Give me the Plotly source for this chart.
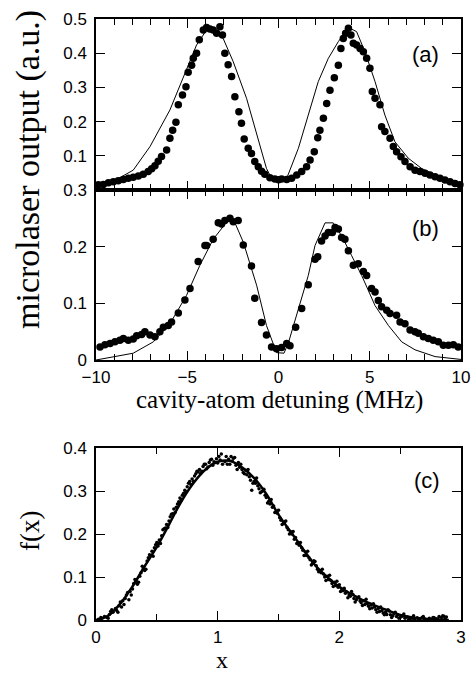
import plotly.graph_objects as go

# ---------------- data: panel (a) ----------------
a_dot_x = [-9.87, -9.60, -9.32, -9.05, -8.78, -8.50, -8.23, -7.96, -7.68, -7.41, -7.14, -6.95, -6.77,
           -6.59, -6.41, -6.13, -5.95, -5.80, -5.62, -5.49, -5.26, -5.07, -4.95, -4.76, -4.67, -4.49,
           -4.34, -4.12, -3.94, -3.76, -3.58, -3.39, -3.21, -3.07, -2.94, -2.76, -2.57, -2.39, -2.17,
           -2.03, -1.88, -1.66, -1.48, -1.30, -1.11, -0.93, -0.75, -0.47, -0.20, 0.00,
           0.17, 0.45, 0.72, 1.00, 1.27, 1.54, 1.73, 1.96, 2.15, 2.27, 2.46, 2.64, 2.82, 3.06, 3.28,
           3.42, 3.55, 3.68, 3.83, 3.97, 4.10, 4.28, 4.47, 4.65, 4.83, 5.01, 5.14, 5.29, 5.56, 5.65,
           5.83, 6.11, 6.29, 6.47, 6.71, 6.93, 7.21, 7.48, 7.75, 8.03, 8.30, 8.58, 8.85, 9.12, 9.40,
           9.67, 9.94]
a_dot_y = [0.015, 0.016, 0.021, 0.024, 0.027, 0.031, 0.034, 0.037, 0.041, 0.046, 0.054, 0.062, 0.071,
           0.084, 0.098, 0.117, 0.151, 0.175, 0.198, 0.249, 0.278, 0.302, 0.344, 0.365, 0.385, 0.400,
           0.439, 0.468, 0.475, 0.471, 0.468, 0.458, 0.477, 0.453, 0.400, 0.366, 0.332, 0.273, 0.229,
           0.195, 0.149, 0.122, 0.107, 0.083, 0.068, 0.055, 0.046, 0.036, 0.032, 0.030,
           0.032, 0.031, 0.034, 0.044, 0.054, 0.068, 0.088, 0.112, 0.153, 0.175, 0.210, 0.253, 0.292,
           0.328, 0.365, 0.414, 0.443, 0.458, 0.473, 0.453, 0.429, 0.424, 0.414, 0.404, 0.385, 0.356,
           0.288, 0.268, 0.249, 0.185, 0.171, 0.151, 0.127, 0.112, 0.097, 0.083, 0.068, 0.058, 0.054,
           0.049, 0.044, 0.039, 0.034, 0.029, 0.024, 0.019, 0.015]
a_fit_x = [-10.0, -8.9, -7.96, -7.04, -5.95, -5.04, -4.49, -3.94, -3.67, -3.03, -2.48, -1.75, -1.20,
           -0.66, -0.38, 0.0, 0.45, 1.09, 1.63, 2.18, 2.73, 3.28, 3.83, 4.28, 4.74, 5.29, 5.83, 6.38,
           7.11, 7.84, 8.58, 9.31, 10.0]
a_fit_y = [0.012, 0.030, 0.058, 0.127, 0.234, 0.356, 0.424, 0.468, 0.473, 0.443, 0.375, 0.268, 0.161,
           0.063, 0.034, 0.029, 0.034, 0.122, 0.219, 0.317, 0.385, 0.434, 0.475, 0.463, 0.404, 0.317,
           0.219, 0.141, 0.093, 0.063, 0.044, 0.029, 0.015]

# ---------------- data: panel (b) ----------------
b_dot_x = [-9.78, -9.51, -9.23, -8.96, -8.69, -8.50, -8.23, -7.96, -7.77, -7.50, -7.32, -7.04, -6.77,
           -6.50, -6.31, -6.04, -5.86, -5.49, -5.13, -4.85, -4.40, -4.03, -3.94, -3.58, -3.30, -3.12,
           -2.94, -2.66, -2.48, -2.21, -1.93, -1.48, -1.30, -0.93, -0.66, -0.38, -0.11,
           0.17, 0.45, 0.63, 0.94, 1.27, 1.63, 2.00, 2.15, 2.36, 2.55, 2.73, 2.95, 3.10, 3.28, 3.46,
           3.64, 3.83, 4.10, 4.37, 4.65, 4.83, 5.10, 5.29, 5.47, 5.65, 5.93, 6.11, 6.47, 6.66, 6.93,
           7.21, 7.48, 7.66, 7.94, 8.21, 8.48, 8.76, 9.03, 9.31, 9.58, 9.85]
b_dot_y = [0.023, 0.027, 0.029, 0.032, 0.035, 0.038, 0.035, 0.037, 0.043, 0.045, 0.050, 0.044, 0.041,
           0.050, 0.058, 0.061, 0.067, 0.083, 0.106, 0.126, 0.174, 0.202, 0.202, 0.213, 0.242, 0.240,
           0.246, 0.250, 0.244, 0.246, 0.203, 0.166, 0.109, 0.066, 0.044, 0.023, 0.020,
           0.022, 0.029, 0.025, 0.058, 0.091, 0.133, 0.178, 0.182, 0.210, 0.219, 0.225, 0.225, 0.234,
           0.231, 0.216, 0.213, 0.193, 0.167, 0.170, 0.156, 0.149, 0.126, 0.120, 0.105, 0.094, 0.088,
           0.082, 0.079, 0.067, 0.064, 0.053, 0.050, 0.047, 0.041, 0.038, 0.035, 0.032, 0.026, 0.026,
           0.027, 0.023]
b_fit_x = [-10.0, -8.87, -7.96, -6.86, -5.95, -5.04, -4.31, -3.58, -2.85, -2.48, -1.93, -1.20, -0.66,
           -0.11, 0.30, 0.54, 1.09, 1.63, 2.00, 2.55, 3.00, 3.46, 4.01, 4.56, 5.29, 6.02, 6.75, 7.48,
           8.58, 9.67, 10.0]
b_fit_y = [0.000, 0.006, 0.012, 0.032, 0.064, 0.114, 0.167, 0.213, 0.243, 0.249, 0.208, 0.132, 0.061,
           0.013, 0.012, 0.030, 0.091, 0.149, 0.202, 0.242, 0.242, 0.219, 0.184, 0.149, 0.096, 0.061,
           0.032, 0.018, 0.006, 0.002, 0.001]

# ---------------- data: panel (c) ----------------
c_fit_x = [0.0, 0.1, 0.2, 0.3, 0.4, 0.5, 0.6, 0.7, 0.8, 0.9, 1.0, 1.1, 1.2, 1.3, 1.4, 1.5, 1.6, 1.7,
           1.8, 1.9, 2.0, 2.1, 2.2, 2.3, 2.4, 2.5, 2.6, 2.7, 2.8, 2.9]
c_fit_y = [0.0, 0.010, 0.038, 0.078, 0.125, 0.170, 0.222, 0.275, 0.318, 0.350, 0.368, 0.370, 0.355,
           0.330, 0.293, 0.245, 0.205, 0.166, 0.128, 0.100, 0.077, 0.060, 0.045, 0.033, 0.022, 0.012,
           0.006, 0.003, 0.001, 0.0]
c_dot_x = [0.02, 0.05, 0.07, 0.09, 0.11, 0.12, 0.14, 0.16, 0.17, 0.19, 0.21, 0.22, 0.24, 0.25, 0.27,
           0.28, 0.30, 0.31, 0.33, 0.34, 0.36, 0.37, 0.39, 0.40, 0.42, 0.43, 0.45, 0.46, 0.48, 0.49,
           0.51, 0.52, 0.54, 0.55, 0.57, 0.58, 0.60, 0.61, 0.63, 0.64, 0.66, 0.67, 0.69, 0.70, 0.72,
           0.73, 0.75, 0.76, 0.78, 0.79, 0.81, 0.82, 0.84, 0.85, 0.87, 0.88, 0.90, 0.91, 0.93, 0.94,
           0.96, 0.97, 0.99, 1.00, 1.02, 1.03, 1.05, 1.06, 1.08, 1.09, 1.11, 1.12, 1.14, 1.15, 1.17,
           1.18, 1.20, 1.21, 1.23, 1.24, 1.26, 1.27, 1.28, 1.30, 1.31, 1.33, 1.34, 1.36, 1.37, 1.39,
           1.40, 1.42, 1.43, 1.45, 1.46, 1.48, 1.49, 1.51, 1.52, 1.54, 1.55, 1.57, 1.58, 1.60, 1.61,
           1.63, 1.64, 1.66, 1.67, 1.69, 1.70, 1.72, 1.73, 1.75, 1.76, 1.78, 1.79, 1.81, 1.82, 1.84,
           1.85, 1.87, 1.88, 1.90, 1.91, 1.93, 1.94, 1.96, 1.97, 1.99, 2.00, 2.02, 2.03, 2.05, 2.06,
           2.08, 2.09, 2.11, 2.12, 2.14, 2.15, 2.17, 2.18, 2.20, 2.21, 2.23, 2.24, 2.26, 2.27, 2.29,
           2.30, 2.32, 2.33, 2.35, 2.36, 2.38, 2.39, 2.41, 2.42, 2.44, 2.45, 2.47, 2.48, 2.50, 2.52,
           2.54, 2.56, 2.58, 2.60, 2.62, 2.64, 2.66, 2.68, 2.70, 2.72, 2.74, 2.76, 2.78, 2.80, 2.82,
           2.84, 2.86, 2.88]
c_dot_y = [0.002, 0.004, 0.008, 0.006, 0.013, 0.020, 0.018, 0.027, 0.022, 0.033, 0.030, 0.045, 0.050,
           0.058, 0.047, 0.066, 0.072, 0.085, 0.090, 0.083, 0.102, 0.110, 0.120, 0.115, 0.137, 0.145,
           0.150, 0.160, 0.168, 0.175, 0.172, 0.186, 0.196, 0.210, 0.214, 0.222, 0.230, 0.240, 0.247,
           0.258, 0.262, 0.270, 0.284, 0.280, 0.295, 0.302, 0.310, 0.318, 0.315, 0.328, 0.335, 0.340,
           0.344, 0.350, 0.346, 0.357, 0.362, 0.352, 0.366, 0.372, 0.360, 0.368, 0.375, 0.365, 0.372,
           0.386, 0.403, 0.368, 0.362, 0.374, 0.380, 0.370, 0.378, 0.360, 0.366, 0.355, 0.350, 0.343,
           0.348, 0.338, 0.333, 0.325, 0.302, 0.322, 0.318, 0.312, 0.305, 0.298, 0.300, 0.290, 0.285,
           0.276, 0.270, 0.262, 0.265, 0.252, 0.248, 0.238, 0.232, 0.225, 0.228, 0.215, 0.210, 0.205,
           0.200, 0.188, 0.192, 0.180, 0.174, 0.168, 0.162, 0.158, 0.150, 0.145, 0.140, 0.132, 0.138,
           0.126, 0.118, 0.115, 0.110, 0.107, 0.100, 0.102, 0.094, 0.092, 0.085, 0.088, 0.080, 0.076,
           0.082, 0.070, 0.068, 0.062, 0.065, 0.058, 0.055, 0.060, 0.050, 0.047, 0.052, 0.044, 0.040,
           0.045, 0.036, 0.038, 0.032, 0.035, 0.028, 0.030, 0.024, 0.027, 0.020, 0.022, 0.016, 0.018,
           0.013, 0.021, 0.012, 0.010, 0.015, 0.008, 0.012, 0.006, 0.009, 0.004, 0.007, 0.002, 0.004,
           0.001, 0.005, 0.002, 0.006, 0.003, 0.001, 0.004, 0.002, 0.005, 0.003, 0.008, 0.006, 0.009,
           0.007]
c_dot2_x = [0.04, 0.10, 0.13, 0.18, 0.20, 0.23, 0.26, 0.29, 0.32, 0.35, 0.38, 0.41, 0.44, 0.47, 0.50,
            0.53, 0.56, 0.59, 0.62, 0.65, 0.68, 0.71, 0.74, 0.77, 0.80, 0.83, 0.86, 0.89, 0.92, 0.95,
            0.98, 1.01, 1.04, 1.07, 1.10, 1.13, 1.16, 1.19, 1.22, 1.25, 1.29, 1.32, 1.35, 1.38, 1.41,
            1.44, 1.47, 1.50, 1.53, 1.56, 1.59, 1.62, 1.65, 1.68, 1.71, 1.74, 1.77, 1.80, 1.83, 1.86,
            1.89, 1.92, 1.95, 1.98, 2.01, 2.04, 2.07, 2.10, 2.13, 2.16, 2.19, 2.22, 2.25, 2.28, 2.31,
            2.34, 2.37, 2.40, 2.43, 2.46, 2.49, 2.53, 2.57, 2.61, 2.65, 2.69, 2.73, 2.77, 2.81, 2.85,
            2.87]
c_dot2_y = [0.006, 0.004, 0.024, 0.018, 0.042, 0.036, 0.064, 0.058, 0.094, 0.088, 0.125, 0.118, 0.152,
            0.148, 0.180, 0.178, 0.212, 0.215, 0.246, 0.250, 0.275, 0.290, 0.298, 0.322, 0.322, 0.346,
            0.340, 0.362, 0.356, 0.374, 0.366, 0.380, 0.362, 0.380, 0.362, 0.376, 0.350, 0.362, 0.340,
            0.350, 0.318, 0.330, 0.296, 0.304, 0.272, 0.280, 0.250, 0.255, 0.222, 0.230, 0.200, 0.206,
            0.178, 0.180, 0.150, 0.160, 0.128, 0.136, 0.112, 0.118, 0.092, 0.104, 0.078, 0.090, 0.066,
            0.074, 0.052, 0.066, 0.042, 0.054, 0.034, 0.048, 0.026, 0.038, 0.018, 0.030, 0.012, 0.024,
            0.006, 0.018, 0.004, 0.014, 0.001, 0.010, 0.000, 0.008, 0.000, 0.006, 0.002, 0.010, 0.004]

a_yticks = [0.1, 0.2, 0.3, 0.4, 0.5]
b_yticks = [0, 0.1, 0.2, 0.3]
b_xticks = [-10, -5, 0, 5, 10]
c_yticks = [0, 0.1, 0.2, 0.3, 0.4]
c_xticks = [0, 1, 2, 3]

W, H = 472, 674
def px_x(p):
    return p / W
def px_y(p):
    return 1 - p / H

TICKFONT = dict(family="Liberation Sans, Arial, sans-serif", size=17, color="black")
SERIF = "Liberation Serif, Times New Roman, serif"

fig = go.Figure()

dot = dict(color="black", size=7.5, symbol="circle")
fig.add_trace(go.Scatter(x=a_fit_x, y=a_fit_y, mode="lines", line=dict(color="black", width=1),
                         xaxis="x", yaxis="y", showlegend=False))
fig.add_trace(go.Scatter(x=a_dot_x, y=a_dot_y, mode="markers", marker=dot, cliponaxis=False,
                         xaxis="x", yaxis="y", showlegend=False))
fig.add_trace(go.Scatter(x=b_fit_x, y=b_fit_y, mode="lines", line=dict(color="black", width=1),
                         xaxis="x2", yaxis="y2", showlegend=False))
fig.add_trace(go.Scatter(x=b_dot_x, y=b_dot_y, mode="markers", marker=dot, cliponaxis=False,
                         xaxis="x2", yaxis="y2", showlegend=False))
fig.add_trace(go.Scatter(x=c_fit_x, y=c_fit_y, mode="lines", line=dict(color="black", width=2.5, shape="spline"),
                         xaxis="x3", yaxis="y3", showlegend=False))
fig.add_trace(go.Scatter(x=c_dot_x + c_dot2_x, y=c_dot_y + c_dot2_y, mode="markers",
                         marker=dict(color="black", size=3.5),
                         cliponaxis=False, xaxis="x3", yaxis="y3", showlegend=False))

xdom = [px_x(96), px_x(461)]
common = dict(showline=True, linecolor="black", linewidth=1.5, mirror="allticks", ticks="inside",
              tickcolor="black", tickwidth=1.3, ticklen=9, showgrid=False, zeroline=False,
              tickfont=TICKFONT, automargin=False)
minor_x = dict(ticks="inside", ticklen=6, tickcolor="black", tickwidth=1.2)

fig.update_layout(
    width=W, height=H, margin=dict(l=0, r=0, t=0, b=0, autoexpand=False),
    paper_bgcolor="white", plot_bgcolor="white",
    xaxis=dict(domain=xdom, range=[-10, 10], anchor="y", tickvals=b_xticks, showticklabels=False,
               minor=dict(dtick=1, **minor_x), **common),
    yaxis=dict(domain=[px_y(190), px_y(19)], range=[0, 0.5], anchor="x", tickvals=a_yticks,
               ticklabelstandoff=4, **common),
    xaxis2=dict(domain=xdom, range=[-10, 10], anchor="y2", tickvals=b_xticks, ticklabelstandoff=1,
                minor=dict(dtick=1, **minor_x), **common),
    yaxis2=dict(domain=[px_y(360), px_y(190)], range=[0, 0.3], anchor="x2", tickvals=b_yticks,
                ticktext=["0", "0.1", "0.2", "0.3"], ticklabelstandoff=4, **common),
    xaxis3=dict(domain=xdom, range=[0, 3], anchor="y3", tickvals=c_xticks, ticklabelstandoff=1,
                minor=dict(dtick=0.5, **minor_x), **common),
    yaxis3=dict(domain=[px_y(620), px_y(448)], range=[0, 0.4], anchor="x3", tickvals=c_yticks,
                ticktext=["0", "0.1", "0.2", "0.3", "0.4"], ticklabelstandoff=4, **common),
)

def label(text, x, y, size, family=SERIF, angle=0):
    return dict(text=text, x=px_x(x), y=px_y(y), xref="paper", yref="paper", xanchor="center",
                yanchor="middle", textangle=angle, showarrow=False,
                font=dict(family=family, size=size, color="black"))

ann = [
    label("microlaser output (a.u.)", 28, 170, 34, angle=-90),
    label("cavity-atom detuning (MHz)", 279, 400, 25),
    label("f(x)", 30, 531, 27, angle=-90),
    label("x", 222, 660, 24),
]
for t, xx, yy in [("(a)", 425, 55), ("(b)", 425, 228), ("(c)", 427, 480)]:
    ann.append(label(t, xx, yy, 22, family="Liberation Sans, Arial, sans-serif"))
fig.update_layout(annotations=ann)

fig.write_html("out.html", config={"displayModeBar": False},
               post_script="document.body.style.margin='0';document.body.style.overflow='hidden';")
